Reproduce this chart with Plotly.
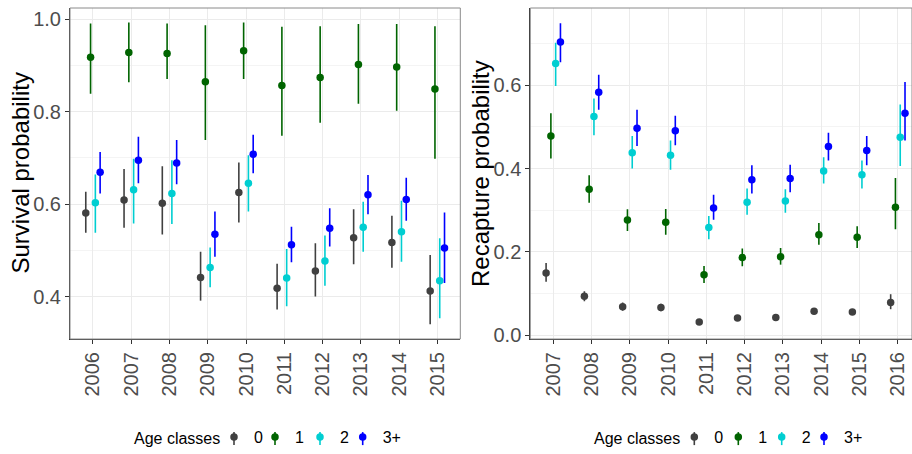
import plotly.graph_objects as go

# ---------------- data ----------------
surv_years = ["2006", "2007", "2008", "2009", "2010", "2011", "2012", "2013", "2014", "2015"]
recap_years = ["2007", "2008", "2009", "2010", "2011", "2012", "2013", "2014", "2015", "2016"]
age_classes = ["0", "1", "2", "3+"]
age_colors = ["#404040", "#006400", "#00CED1", "#0000FF"]

# Survival probability (estimate, lower, upper) per age class
surv_0 = [0.581, 0.609, 0.602, 0.441, 0.625, 0.418, 0.455, 0.527, 0.517, 0.412]
surv_0_lo = [0.538, 0.549, 0.534, 0.391, 0.560, 0.372, 0.400, 0.470, 0.462, 0.340]
surv_0_hi = [0.627, 0.676, 0.682, 0.497, 0.690, 0.471, 0.515, 0.589, 0.575, 0.490]

surv_1 = [0.918, 0.928, 0.926, 0.865, 0.932, 0.857, 0.874, 0.902, 0.897, 0.849]
surv_1_lo = [0.839, 0.864, 0.871, 0.739, 0.871, 0.748, 0.776, 0.817, 0.802, 0.698]
surv_1_hi = [0.991, 0.993, 0.991, 0.987, 0.993, 0.984, 0.985, 0.990, 0.990, 0.985]

surv_2 = [0.603, 0.631, 0.623, 0.463, 0.645, 0.440, 0.477, 0.550, 0.540, 0.434]
surv_2_lo = [0.538, 0.558, 0.557, 0.420, 0.584, 0.379, 0.423, 0.497, 0.475, 0.353]
surv_2_hi = [0.664, 0.698, 0.695, 0.506, 0.706, 0.503, 0.532, 0.605, 0.607, 0.526]

surv_3 = [0.669, 0.695, 0.689, 0.535, 0.708, 0.512, 0.548, 0.620, 0.610, 0.505]
surv_3_lo = [0.623, 0.645, 0.643, 0.486, 0.667, 0.474, 0.508, 0.578, 0.564, 0.429]
surv_3_hi = [0.713, 0.746, 0.739, 0.584, 0.750, 0.551, 0.591, 0.663, 0.657, 0.582]

# Recapture probability (estimate, lower, upper) per age class
recap_0 = [0.149, 0.093, 0.068, 0.066, 0.031, 0.041, 0.042, 0.057, 0.055, 0.078]
recap_0_lo = [0.128, 0.081, 0.058, 0.057, 0.027, 0.036, 0.037, 0.050, 0.049, 0.062]
recap_0_hi = [0.173, 0.105, 0.078, 0.075, 0.036, 0.046, 0.047, 0.064, 0.061, 0.098]

recap_1 = [0.478, 0.350, 0.276, 0.271, 0.145, 0.186, 0.188, 0.241, 0.235, 0.307]
recap_1_lo = [0.424, 0.318, 0.250, 0.241, 0.125, 0.165, 0.169, 0.217, 0.209, 0.254]
recap_1_hi = [0.533, 0.384, 0.302, 0.303, 0.166, 0.208, 0.209, 0.269, 0.261, 0.377]

recap_2 = [0.652, 0.525, 0.438, 0.432, 0.258, 0.319, 0.322, 0.394, 0.385, 0.475]
recap_2_lo = [0.598, 0.480, 0.400, 0.397, 0.230, 0.289, 0.294, 0.364, 0.352, 0.406]
recap_2_hi = [0.702, 0.568, 0.478, 0.467, 0.286, 0.352, 0.350, 0.427, 0.419, 0.554]

recap_3 = [0.704, 0.583, 0.497, 0.491, 0.305, 0.373, 0.376, 0.453, 0.443, 0.533]
recap_3_lo = [0.655, 0.541, 0.454, 0.456, 0.277, 0.340, 0.343, 0.419, 0.408, 0.467]
recap_3_hi = [0.749, 0.625, 0.541, 0.527, 0.337, 0.408, 0.409, 0.486, 0.478, 0.608]

surv_est = [surv_0, surv_1, surv_2, surv_3]
surv_lo = [surv_0_lo, surv_1_lo, surv_2_lo, surv_3_lo]
surv_hi = [surv_0_hi, surv_1_hi, surv_2_hi, surv_3_hi]
recap_est = [recap_0, recap_1, recap_2, recap_3]
recap_lo = [recap_0_lo, recap_1_lo, recap_2_lo, recap_3_lo]
recap_hi = [recap_0_hi, recap_1_hi, recap_2_hi, recap_3_hi]

W, H = 912, 454
FONT = "Liberation Sans, Arial, sans-serif"
TICK_COL = "#4D4D4D"
LEG_FONT = dict(family=FONT, size=16, color="black")
TITLE_FONT = dict(family=FONT, size=24, color="black")

# legend key positions (px) for each panel
leg_sym_left = [234, 275, 320, 362.7]
leg_sym_right = [694.3, 738.3, 781.7, 824]
KEY_Y = 438.6      # expected centre of the legend row (px from top)
SYM_OFFSET = 20

fig = go.Figure()
legend_layouts = {}


def add_panel(years, est, lo, hi, xa, ya, leg_base, sym_x):
    for k, name in enumerate(age_classes):
        plus = [h - e for h, e in zip(hi[k], est[k])]
        minus = [e - l for e, l in zip(est[k], lo[k])]
        lid = "legend" if leg_base + k == 1 else f"legend{leg_base + k}"
        fig.add_trace(go.Scatter(
            x=years, y=est[k], name=name, mode="markers",
            xaxis=xa, yaxis=ya, legend=lid,
            offsetgroup=name, alignmentgroup=xa,
            marker=dict(color=age_colors[k], size=7.5),
            error_y=dict(type="data", symmetric=False, array=plus, arrayminus=minus,
                         color=age_colors[k], thickness=1.6, width=0),
        ))
        legend_layouts[lid] = dict(
            orientation="h", x=(sym_x[k] - SYM_OFFSET) / W, y=0,
            xanchor="left", yanchor="bottom", font=LEG_FONT,
            itemwidth=30, bgcolor="rgba(0,0,0,0)",
        )
        # vertical range line of the legend key (pointrange glyph)
        fig.add_shape(type="line", xref="paper", yref="paper",
                      x0=sym_x[k] / W, x1=sym_x[k] / W,
                      y0=(H - (KEY_Y - 6.5)) / H, y1=(H - (KEY_Y + 6.5)) / H,
                      line=dict(color=age_colors[k], width=1.6), layer="above")


add_panel(surv_years, surv_est, surv_lo, surv_hi, "x", "y", 1, leg_sym_left)
add_panel(recap_years, recap_est, recap_lo, recap_hi, "x2", "y2", 5, leg_sym_right)

ytop, ybot = 8, 339
ydom = [(H - ybot) / H, (H - ytop) / H]
x1dom = [70 / W, 460.3 / W]
x2dom = [530.3 / W, 1.0]

axis_common = dict(
    showline=True, linecolor="#333333", linewidth=1,
    ticks="outside", ticklen=4, tickcolor="#333333", tickwidth=1,
    showgrid=True, gridcolor="#EBEBEB", gridwidth=1.1,
    zeroline=False, automargin=False,
    tickfont=dict(family=FONT, size=20, color=TICK_COL),
)

fig.update_layout(
    width=W, height=H,
    margin=dict(l=0, r=0, t=0, b=0),
    paper_bgcolor="white", plot_bgcolor="white",
    scattermode="group", scattergap=0.5,
    font=dict(family=FONT, color="black"),
    showlegend=True,
    xaxis=dict(domain=x1dom, anchor="y", type="category", range=[-0.6, 9.6],
               tickangle=-90, **axis_common),
    yaxis=dict(domain=ydom, anchor="x", range=[0.308, 1.0245],
               tickvals=[0.4, 0.6, 0.8, 1.0], ticktext=["0.4", "0.6", "0.8", "1.0"],
               minor=dict(tickvals=[0.5, 0.7, 0.9], showgrid=True, gridcolor="#F4F4F4", gridwidth=0.6, ticks=""),
               **axis_common),
    xaxis2=dict(domain=x2dom, anchor="y2", type="category", range=[-0.6, 9.37],
                tickangle=-90, **axis_common),
    yaxis2=dict(domain=ydom, anchor="x2", range=[-0.0096, 0.7856],
                tickvals=[0.0, 0.2, 0.4, 0.6], ticktext=["0.0", "0.2", "0.4", "0.6"],
                minor=dict(tickvals=[0.1, 0.3, 0.5, 0.7], showgrid=True, gridcolor="#F4F4F4", gridwidth=0.6, ticks=""),
                **axis_common),
    **legend_layouts,
)

# axis titles
ymid = (H - (ytop + ybot) / 2) / H
fig.add_annotation(text="Survival probability", x=20 / W, y=ymid, xref="paper", yref="paper",
                   textangle=-90, showarrow=False, font=TITLE_FONT, xanchor="center", yanchor="middle")
fig.add_annotation(text="Recapture probability", x=480.5 / W, y=ymid, xref="paper", yref="paper",
                   textangle=-90, showarrow=False, font=TITLE_FONT, xanchor="center", yanchor="middle")
# legend titles
for lx in (131.7, 592.3):
    fig.add_annotation(text="Age classes", x=lx / W, y=(H - KEY_Y) / H, xref="paper", yref="paper",
                       showarrow=False, font=LEG_FONT, xanchor="left", yanchor="middle")

# grey panel borders (top/right)
for xd in (x1dom, x2dom):
    fig.add_shape(type="rect", xref="paper", yref="paper",
                  x0=xd[0], x1=xd[1], y0=ydom[0], y1=ydom[1],
                  line=dict(color="#8A8A8A", width=1), fillcolor="rgba(0,0,0,0)", layer="above")

fig.write_html("out.html")
